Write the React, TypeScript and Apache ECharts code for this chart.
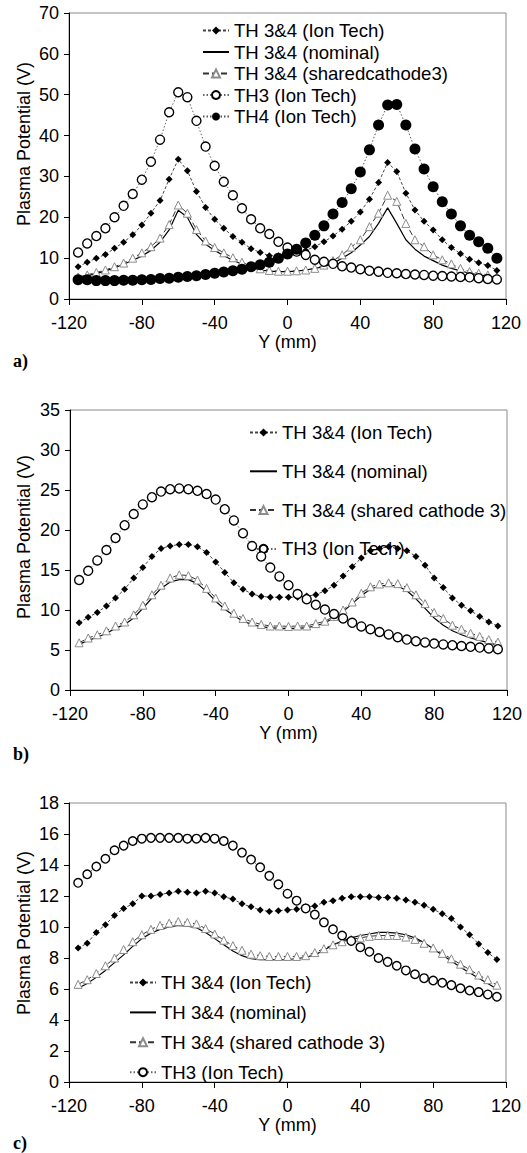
import React, { useEffect, useRef } from "react";
import * as echarts from "echarts";

// Y positions (mm)
const X_MM = [-115, -110, -105, -100, -95, -90, -85, -80, -75, -70, -65, -60, -55, -50, -45, -40, -35, -30, -25, -20, -15, -10, -5, 0, 5, 10, 15, 20, 25, 30, 35, 40, 45, 50, 55, 60, 65, 70, 75, 80, 85, 90, 95, 100, 105, 110, 115];

// Panel a)
const A_ION = [7.9, 9.0, 10.0, 10.9, 12.4, 13.9, 15.7, 18.1, 21.0, 24.1, 29.3, 34.2, 31.4, 26.3, 22.4, 19.5, 17.3, 15.3, 13.9, 12.3, 11.4, 10.6, 10.6, 10.9, 11.3, 11.9, 12.8, 14.0, 15.4, 17.1, 19.0, 21.3, 24.4, 28.5, 33.4, 31.2, 25.9, 21.8, 19.0, 16.9, 14.5, 12.6, 11.1, 9.7, 8.9, 8.2, 7.0];
const A_NOM = [5.2, 5.7, 6.2, 6.9, 7.6, 8.5, 9.5, 10.5, 11.9, 13.9, 16.9, 21.7, 20.0, 15.8, 13.4, 11.9, 10.6, 9.5, 8.5, 7.7, 7.1, 6.8, 6.7, 6.7, 6.8, 7.1, 7.5, 7.9, 8.7, 10.0, 11.3, 13.2, 15.3, 18.5, 22.3, 18.5, 14.5, 12.2, 10.5, 9.4, 8.3, 7.5, 6.9, 6.3, 5.9, 5.6, 5.2];
const A_SH = [5.4, 5.9, 6.5, 7.1, 7.9, 8.8, 10.0, 11.3, 12.8, 14.9, 18.2, 23.0, 21.0, 17.0, 14.2, 12.6, 11.3, 10.1, 9.0, 8.1, 7.4, 7.0, 6.8, 6.8, 6.9, 7.1, 7.5, 8.3, 9.4, 10.8, 12.7, 14.5, 17.7, 21.0, 25.4, 23.9, 18.5, 14.5, 12.8, 10.8, 9.6, 8.6, 7.5, 6.7, 6.3, 5.9, 5.5];
const A_TH3 = [11.4, 13.6, 15.4, 17.3, 20.0, 22.8, 25.7, 29.2, 33.6, 39.0, 45.7, 50.6, 49.4, 43.6, 37.3, 32.6, 28.7, 25.4, 22.2, 19.5, 17.3, 15.9, 14.0, 12.6, 11.6, 10.8, 9.6, 9.1, 8.6, 8.0, 7.7, 7.3, 6.9, 6.7, 6.4, 6.3, 6.1, 6.0, 5.9, 5.7, 5.6, 5.5, 5.4, 5.3, 5.1, 4.9, 4.8];
const A_TH4 = [4.7, 4.7, 4.5, 4.5, 4.5, 4.6, 4.6, 4.7, 4.8, 5.0, 5.1, 5.3, 5.5, 5.7, 6.0, 6.3, 6.6, 6.9, 7.3, 7.9, 8.4, 9.0, 10.0, 11.0, 12.2, 13.7, 15.6, 17.9, 20.8, 23.6, 27.0, 31.1, 36.5, 42.6, 47.5, 47.6, 42.6, 36.7, 31.8, 27.5, 23.8, 20.8, 17.9, 15.6, 14.0, 12.4, 10.0];

// Panel b)
const B_ION = [8.4, 9.1, 9.7, 10.5, 11.5, 12.6, 14.0, 15.3, 16.7, 17.7, 18.0, 18.2, 18.2, 17.9, 17.2, 16.0, 14.7, 13.4, 12.6, 12.0, 11.7, 11.6, 11.6, 11.6, 11.6, 11.75, 11.9, 12.4, 13.1, 14.25, 15.4, 16.5, 17.4, 17.7, 17.9, 17.7, 17.4, 16.7, 15.6, 14.0, 12.8, 11.5, 10.6, 9.9, 9.2, 8.5, 8.0];
const B_NOM = [5.7, 6.2, 6.6, 7.1, 7.7, 8.2, 9.0, 10.2, 11.5, 12.7, 13.5, 13.8, 13.8, 13.3, 12.3, 11.1, 10.1, 9.3, 8.6, 8.2, 7.9, 7.8, 7.7, 7.7, 7.7, 7.8, 8.0, 8.4, 9.0, 9.8, 10.8, 11.8, 12.6, 13.0, 13.1, 13.0, 12.4, 11.4, 10.2, 9.0, 8.1, 7.4, 6.9, 6.5, 6.2, 5.9, 5.6];
const B_SH = [5.9, 6.5, 6.9, 7.4, 8.0, 8.5, 9.4, 10.6, 11.9, 13.1, 14.0, 14.4, 14.3, 13.75, 12.7, 11.5, 10.5, 9.6, 8.95, 8.5, 8.2, 8.0, 8.0, 7.95, 8.0, 8.0, 8.3, 8.6, 9.2, 10.0, 11.0, 12.1, 12.9, 13.25, 13.4, 13.3, 12.8, 11.9, 10.8, 9.7, 8.95, 8.1, 7.6, 7.1, 6.7, 6.3, 6.0];
const B_TH3 = [13.75, 14.9, 16.2, 17.5, 19.0, 20.6, 22.0, 23.2, 24.1, 24.8, 25.1, 25.2, 25.1, 24.9, 24.5, 23.8, 22.6, 21.2, 19.6, 18.0, 16.7, 15.3, 14.2, 13.1, 12.0, 11.35, 10.65, 10.05, 9.5, 8.95, 8.4, 7.95, 7.6, 7.25, 6.95, 6.6, 6.3, 6.1, 5.95, 5.8, 5.7, 5.6, 5.5, 5.4, 5.3, 5.2, 5.1];

// Panel c)
const C_ION = [8.65, 8.95, 9.65, 10.15, 10.75, 11.2, 11.5, 12.0, 12.0, 12.1, 12.2, 12.3, 12.25, 12.2, 12.3, 12.2, 11.95, 11.8, 11.5, 11.3, 11.1, 11.0, 11.05, 11.1, 11.15, 11.3, 11.35, 11.6, 11.7, 11.85, 11.95, 11.95, 11.95, 11.9, 11.9, 11.85, 11.75, 11.6, 11.4, 11.15, 10.85, 10.55, 10.0, 9.5, 8.9, 8.35, 7.9];
const C_NOM = [6.05, 6.35, 6.75, 7.2, 7.7, 8.2, 8.75, 9.25, 9.6, 9.85, 10.0, 10.1, 10.05, 9.95, 9.65, 9.25, 8.85, 8.45, 8.15, 7.95, 7.9, 7.9, 7.9, 7.9, 7.95, 8.05, 8.2, 8.5, 8.85, 9.1, 9.3, 9.45, 9.55, 9.65, 9.65, 9.6, 9.5, 9.3, 9.0, 8.6, 8.2, 7.8, 7.4, 7.05, 6.7, 6.35, 6.0];
const C_SH = [6.3, 6.6, 7.0, 7.5, 8.0, 8.55, 9.05, 9.5, 9.85, 10.1, 10.25, 10.35, 10.3, 10.2, 9.9, 9.55, 9.15, 8.8, 8.5, 8.25, 8.15, 8.1, 8.1, 8.1, 8.1, 8.15, 8.35, 8.6, 8.85, 9.05, 9.2, 9.3, 9.4, 9.45, 9.45, 9.45, 9.35, 9.2, 8.95, 8.65, 8.3, 7.95, 7.6, 7.25, 6.9, 6.6, 6.25];
const C_TH3 = [12.85, 13.4, 13.9, 14.4, 14.95, 15.25, 15.55, 15.7, 15.75, 15.75, 15.75, 15.75, 15.7, 15.7, 15.75, 15.7, 15.55, 15.25, 14.8, 14.35, 13.85, 13.3, 12.75, 12.15, 11.7, 11.2, 10.8, 10.3, 9.85, 9.45, 9.1, 8.7, 8.4, 8.0, 7.75, 7.5, 7.2, 6.95, 6.7, 6.55, 6.4, 6.25, 6.05, 5.9, 5.8, 5.65, 5.5];

const N_ION = "TH 3&4 (Ion Tech)";
const N_NOM = "TH 3&4 (nominal)";
const N_SH_A = "TH 3&4 (sharedcathode3)";
const N_SH = "TH 3&4 (shared cathode 3)";
const N_TH3 = "TH3 (Ion Tech)";
const N_TH4 = "TH4 (Ion Tech)";

const Y_MAX = [70, 35, 18];
const Y_STEP = [10, 5, 2];

const FONT = "'Liberation Sans', Arial, Helvetica, sans-serif";

const pairs = (ys: number[]) => X_MM.map((x, i) => [x, ys[i]]);

const base = (g: number) => ({
  type: "line",
  xAxisIndex: g,
  yAxisIndex: g,
  showAllSymbol: true,
  animation: false,
  emphasis: { disabled: true },
});

const ionS = (g: number, d: number[]) => ({
  ...base(g),
  name: N_ION,
  data: pairs(d),
  symbol: "diamond",
  symbolSize: 7,
  itemStyle: { color: "#000" },
  lineStyle: { color: "#444", width: 1, type: [3, 2] },
  z: 3,
});
const nomS = (g: number, d: number[]) => ({
  ...base(g),
  name: N_NOM,
  data: pairs(d),
  symbol: "none",
  itemStyle: { color: "#000" },
  lineStyle: { color: "#000", width: 1.2 },
  z: 2,
});
const shS = (g: number, d: number[], name: string) => ({
  ...base(g),
  name,
  data: pairs(d),
  symbol: "triangle",
  symbolSize: 8,
  itemStyle: { color: "#fff", borderColor: "#8c8c8c", borderWidth: 1 },
  lineStyle: { color: "#333", width: 1, type: [6, 3] },
  z: 2,
});
const th3S = (g: number, d: number[], size: number) => ({
  ...base(g),
  name: N_TH3,
  data: pairs(d),
  symbol: "circle",
  symbolSize: size,
  itemStyle: { color: "#fff", borderColor: "#000", borderWidth: 1.4 },
  lineStyle: { color: "#666", width: 1, type: [1.5, 2] },
  z: 4,
});
const th4S = (g: number, d: number[]) => ({
  ...base(g),
  name: N_TH4,
  data: pairs(d),
  symbol: "circle",
  symbolSize: 11,
  itemStyle: { color: "#000" },
  lineStyle: { color: "#555", width: 1, type: [1.5, 2] },
  z: 5,
});

const GRIDS = [
  { left: 69, top: 13, width: 437, height: 286 },
  { left: 70, top: 410, width: 437, height: 280 },
  { left: 69, top: 803, width: 437, height: 279 },
];

const NOM_LEGEND = { name: N_NOM, itemStyle: { opacity: 0 } };

export default function App() {
  const ref = useRef<HTMLDivElement>(null);
  useEffect(() => {
    if (!ref.current) return;
    const chart = echarts.init(ref.current, undefined, { renderer: "svg" });
    const txt = { color: "#000", fontFamily: FONT, fontSize: 18 };
    const legTxt = { color: "#000", fontFamily: FONT, fontSize: 18.6, lineHeight: 18 };
    const option: any = {
      animation: false,
      backgroundColor: "#fff",
      grid: GRIDS.map((g) => ({ ...g, show: true, borderColor: "#8a8a8a", borderWidth: 1, backgroundColor: "transparent" })),
      xAxis: GRIDS.map((_, i) => ({
        type: "value",
        gridIndex: i,
        min: -120,
        max: 120,
        interval: 40,
        name: "Y (mm)",
        nameLocation: "middle",
        nameGap: 27,
        nameTextStyle: { ...txt },
        axisLine: { show: true, onZero: false, lineStyle: { color: "#000", width: 1 } },
        axisTick: { show: true, inside: false, length: 6, lineStyle: { color: "#000" } },
        axisLabel: { ...txt, margin: 15 },
        splitLine: { show: false },
      })),
      yAxis: GRIDS.map((_, i) => ({
        type: "value",
        gridIndex: i,
        min: 0,
        max: Y_MAX[i],
        interval: Y_STEP[i],
        axisLine: { show: true, onZero: false, lineStyle: { color: "#000", width: 1 } },
        axisTick: { show: true, inside: false, length: 5, lineStyle: { color: "#000" } },
        axisLabel: { ...txt, margin: 10 },
        splitLine: { show: false },
      })),
      legend: [
        {
          data: [N_ION, NOM_LEGEND, N_SH_A, N_TH3, N_TH4],
          orient: "vertical",
          left: 202,
          top: 21,
          padding: 0,
          itemWidth: 26,
          itemHeight: 10,
          itemGap: 2.5,
          selectedMode: false,
          textStyle: legTxt,
        },
        {
          data: [N_ION, NOM_LEGEND, N_SH, N_TH3],
          orient: "vertical",
          left: 249,
          top: 423,
          padding: 0,
          itemWidth: 27,
          itemHeight: 10,
          itemGap: 19.8,
          selectedMode: false,
          textStyle: legTxt,
        },
        {
          data: [N_ION, NOM_LEGEND, N_SH, N_TH3],
          orient: "vertical",
          left: 129,
          top: 973,
          padding: 0,
          itemWidth: 26,
          itemHeight: 10,
          itemGap: 10.9,
          selectedMode: false,
          textStyle: legTxt,
        },
      ],
      graphic: [
        ...[144, 537, 933].map((cy) => ({
          type: "text",
          x: 24,
          y: cy,
          rotation: Math.PI / 2,
          style: { text: "Plasma Potential (V)", fontSize: 18, fontFamily: FONT, fill: "#000", align: "center", verticalAlign: "middle" },
        })),
        ...[
          ["a)", 362],
          ["b)", 755],
          ["c)", 1144],
        ].map(([t, cy]) => ({
          type: "text",
          left: 13,
          top: (cy as number) - 10,
          style: { text: t, fontSize: 18, fontWeight: "bold", fontFamily: "'Liberation Serif', 'Times New Roman', serif", fill: "#000" },
        })),
      ],
      series: [
        ionS(0, A_ION),
        nomS(0, A_NOM),
        shS(0, A_SH, N_SH_A),
        th3S(0, A_TH3, 9),
        th4S(0, A_TH4),
        ionS(1, B_ION),
        nomS(1, B_NOM),
        shS(1, B_SH, N_SH),
        th3S(1, B_TH3, 9),
        ionS(2, C_ION),
        nomS(2, C_NOM),
        shS(2, C_SH, N_SH),
        th3S(2, C_TH3, 8.5),
      ],
    };
    chart.setOption(option);
    return () => chart.dispose();
  }, []);
  return <div ref={ref} style={{ position: "absolute", left: 0, top: 0, width: 527, height: 1153 }} />;
}
